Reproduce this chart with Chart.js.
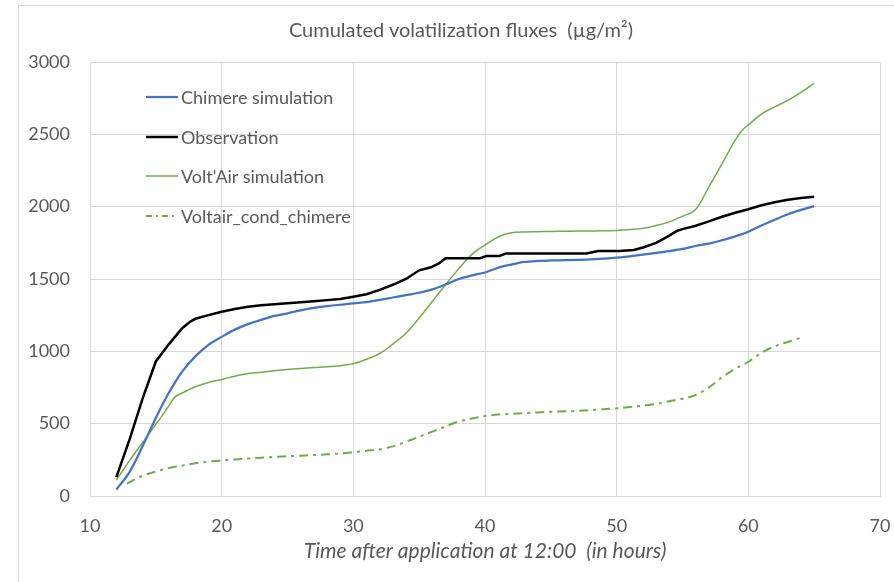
<!DOCTYPE html>
<html>
<head>
<meta charset="utf-8">
<script src="https://cdn.jsdelivr.net/npm/chart.js@4.4.1/dist/chart.umd.min.js"></script>
<style>
  html, body { margin: 0; padding: 0; background: #fff; overflow: hidden; }
  #wrap { position: relative; width: 894px; height: 582px; }
  #frame { position: absolute; left: 18px; top: 5px; width: 900px; height: 600px;
           border-left: 1px solid #d9d9d9; border-top: 1px solid #d9d9d9; }
  #c { position: absolute; left: 0; top: 0; }
  #title { position: absolute; left: 18px; width: 886px; top: 17px; line-height: 24px; text-align: center;
           font-family: Lato, "Open Sans", sans-serif; font-size: 20px; color: #595959; white-space: pre; }
  #legend { position: absolute; left: 146px; top: 86px; font-family: Lato, "Open Sans", sans-serif;
            font-size: 18px; line-height: 22px; color: #595959; }
  .row { height: 39.6px; display: flex; align-items: flex-start; }
  .row svg { margin-top: 3px; margin-right: 3px; }
</style>
</head>
<body>
<div id="wrap">
  <div id="frame"></div>
  <canvas id="c" width="894" height="582"></canvas>
  <div id="title"></div>
  <div id="legend"></div>
</div>
<script>
const chartTitle = "Cumulated volatilization fluxes  (µg/m²)";
const xAxisTitle = "Time after application at 12:00  (in hours)";
const seriesNames = ["Chimere simulation", "Observation", "Volt'Air simulation", "Voltair_cond_chimere"];
const xTicks = [10, 20, 30, 40, 50, 60, 70];
const yTicks = [0, 500, 1000, 1500, 2000, 2500, 3000];

const chimereHours = [12,13,14,15,16,17,18,19,20,21,22,23,24,25,26,27,28,29,30,31,32,33,34,35,36,37,38,39,40,41,42,43,44,45,46,47,48,49,50,51,52,53,54,55,56,57,58,59,60,61,62,63,64,65];
const chimereValues = [45,165,345,540,715,860,965,1045,1100,1150,1188,1218,1245,1263,1283,1300,1313,1322,1332,1340,1355,1372,1388,1405,1428,1462,1500,1525,1545,1578,1600,1618,1625,1628,1630,1632,1636,1640,1648,1657,1668,1680,1693,1708,1728,1745,1768,1795,1827,1870,1910,1948,1978,2004];

const obsHours = [12,13,14,15,16,17,17.6,18,19,20,21,22,23,24,25,26,27,28,29,30,31,32,33,34,35,35.9,36.5,37,39.6,40.1,41.1,41.6,47.7,48.6,50.2,51.3,52,53,54,54.6,55,56,57,58,59,60,61,62,63,64,65];
const obsValues = [130,390,675,930,1050,1160,1205,1225,1250,1274,1292,1308,1318,1325,1332,1340,1347,1354,1362,1378,1395,1425,1460,1500,1560,1581,1608,1643,1643,1659,1659,1677,1677,1693,1693,1700,1718,1750,1800,1834,1845,1868,1898,1930,1958,1982,2010,2030,2048,2060,2069];

const voltairHours = [12,13,14,15,16,16.4,17,18,19,20,21,22,23,24,25,26,27,28,29,30,31,32,33,34,35,36,37,38,39,40,41,42,43,44,45,46,47,48,49,50,51,52,53,54,55,56,57,58,59,59.6,60,61,62,63,64,65];
const voltairValues = [110,245,370,495,625,680,712,755,785,806,828,846,855,866,875,882,888,893,901,915,945,985,1050,1125,1230,1345,1460,1570,1670,1735,1790,1820,1825,1827,1829,1830,1831,1832,1833,1836,1842,1850,1870,1895,1935,1980,2135,2295,2460,2535,2565,2640,2690,2735,2790,2852];

const condHours = [12.8,14,15,16,17,18,19,20,21,22,23,24,25,26,27,28,29,30,31,32,33,34,35,36,37,38,39,40,41,42,43,44,45,46,47,48,49,50,51,52,53,54,55,56,57,58,59,60,61,62,63,64];
const condValues = [85,140,170,193,210,226,238,246,253,259,265,270,275,279,283,288,294,303,313,322,343,375,410,445,480,515,535,553,563,568,573,578,582,585,588,593,600,606,615,625,636,655,672,698,750,820,880,928,990,1035,1065,1095];

const toPts = (xs, ys) => xs.map((x, i) => ({ x: x, y: ys[i] }));

const styles = [
  { color: '#4472C4', width: 2.25, dash: [], smooth: true },
  { color: '#000000', width: 2.5, dash: [], smooth: false },
  { color: '#70AD47', width: 1.5, dash: [], smooth: true },
  { color: '#70AD47', width: 2, dash: [9, 5, 3, 5], smooth: true }
];
const seriesData = [
  toPts(chimereHours, chimereValues),
  toPts(obsHours, obsValues),
  toPts(voltairHours, voltairValues),
  toPts(condHours, condValues)
];

const datasets = seriesNames.map((name, i) => ({
  label: name,
  data: seriesData[i],
  borderColor: styles[i].color,
  borderWidth: styles[i].width,
  borderDash: styles[i].dash,
  pointRadius: 0,
  fill: false,
  tension: styles[i].smooth ? 0.4 : 0,
  cubicInterpolationMode: styles[i].smooth ? 'monotone' : 'default'
}));
datasets[3].order = 4; datasets[2].order = 3; datasets[0].order = 2; datasets[1].order = 1;

const FONT = 'Lato, "Open Sans", sans-serif';
const GRAY = '#595959';

document.getElementById('title').textContent = chartTitle;

new Chart(document.getElementById('c'), {
  type: 'line',
  data: { datasets: datasets },
  options: {
    responsive: false,
    animation: false,
    layout: { padding: { left: 18, right: 14, top: 62, bottom: 0 } },
    plugins: {
      legend: { display: false },
      tooltip: { enabled: false },
      title: { display: false }
    },
    scales: {
      x: {
        type: 'linear',
        min: xTicks[0],
        max: xTicks[xTicks.length - 1],
        afterBuildTicks: (s) => { s.ticks = xTicks.map(v => ({ value: v })); },
        afterFit: (s) => { s.paddingRight = 0; s.paddingLeft = 0; },
        grid: { color: '#d9d9d9', lineWidth: 1, drawTicks: false },
        border: { color: '#d9d9d9' },
        ticks: { color: GRAY, font: { family: FONT, size: 18 }, padding: 19.2, maxRotation: 0,
                 callback: (v) => String(v) },
        title: {
          display: true,
          text: xAxisTitle,
          color: GRAY,
          font: { family: FONT, size: 21, style: 'italic' },
          padding: { top: -17.6, bottom: 18.4 }
        }
      },
      y: {
        min: yTicks[0],
        max: yTicks[yTicks.length - 1],
        afterBuildTicks: (s) => { s.ticks = yTicks.map(v => ({ value: v })); },
        afterFit: (s) => { s.width = 72; },
        grid: { color: '#d9d9d9', lineWidth: 1, drawTicks: false },
        border: { color: '#d9d9d9' },
        ticks: { color: GRAY, font: { family: FONT, size: 18 }, padding: 20,
                 callback: (v) => String(v) }
      }
    }
  },
  plugins: [{
    id: 'rightBorder',
    afterDraw(chart) {
      const a = chart.chartArea, ctx = chart.ctx;
      ctx.save();
      ctx.strokeStyle = '#d9d9d9'; ctx.lineWidth = 1;
      ctx.beginPath(); ctx.moveTo(Math.round(a.right) + 0.5, a.top); ctx.lineTo(Math.round(a.right) + 0.5, a.bottom); ctx.stroke();
      ctx.restore();
    }
  }]
});

const legend = document.getElementById('legend');
seriesNames.forEach((name, i) => {
  const row = document.createElement('div');
  row.className = 'row';
  const st = styles[i];
  const dash = st.dash.length ? ' stroke-dasharray="6 4 2 4"' : '';
  row.innerHTML = '<svg width="32" height="16"><line x1="0" y1="8" x2="32" y2="8" stroke="' + st.color +
    '" stroke-width="' + st.width + '"' + dash + '/></svg><span>' + name + '</span>';
  legend.appendChild(row);
});
</script>
</body>
</html>
